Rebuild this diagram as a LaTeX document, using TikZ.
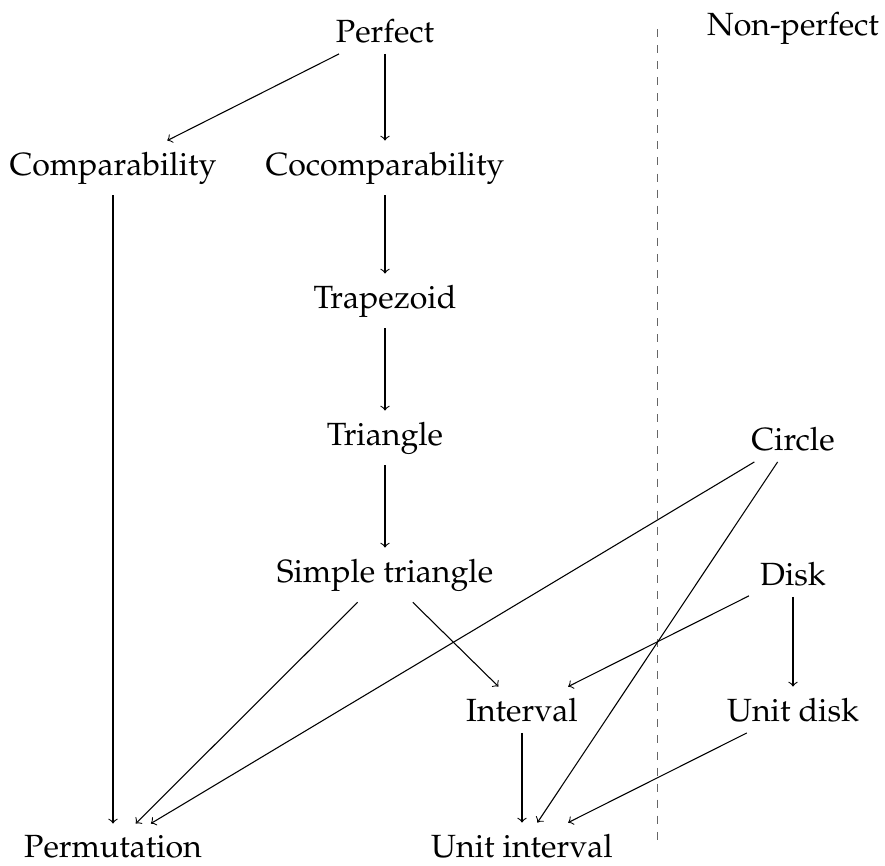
\documentclass[tikz,border=0pt,12pt]{standalone}
\usepackage[T1]{fontenc}
\usepackage{mathpazo}
\begin{document}
\begin{tikzpicture}[x=0.3737pt,y=-0.3737pt,
  lbl/.style={anchor=base,font=\fontsize{12}{14.4}\selectfont},
  arr/.style={->,line width=0.4pt},
  sep/.style={dashed,black!60,line width=0.4pt}]
\useasboundingbox (0,0) rectangle (885,865);
\node[lbl] (perf) at (385,42) {Perfect};
\node[lbl] (nonp) at (793,35) {Non-perfect};
\node[lbl] (comp) at (113,175) {Comparability};
\node[lbl] (cocomp) at (385,175) {Cocomparability};
\node[lbl] (trap) at (385,308) {Trapezoid};
\node[lbl] (tri) at (385,445) {Triangle};
\node[lbl] (stri) at (385,582) {Simple triangle};
\node[lbl] (circ) at (793,450) {Circle};
\node[lbl] (disk) at (793,585) {Disk};
\node[lbl] (intv) at (522,721) {Interval};
\node[lbl] (udisk) at (793,721) {Unit disk};
\node[lbl] (perm) at (113,857) {Permutation};
\node[lbl] (uint) at (522,857) {Unit interval};
\coordinate (septop) at (657.5,29);
\coordinate (sepbot) at (657.5,846);
\draw[sep] (septop) -- (sepbot);
\draw[arr] (perf) -- (comp);
\draw[arr] (perf) -- (cocomp);
\draw[arr] (comp) -- (perm);
\draw[arr] (cocomp) -- (trap);
\draw[arr] (trap) -- (tri);
\draw[arr] (tri) -- (stri);
\draw[arr] (stri) -- (perm);
\draw[arr] (stri) -- (intv);
\draw[arr] (circ) -- (perm);
\draw[arr] (circ) -- (uint);
\draw[arr] (disk) -- (intv);
\draw[arr] (disk) -- (udisk);
\draw[arr] (intv) -- (uint);
\draw[arr] (udisk) -- (uint);
\end{tikzpicture}
\end{document}
